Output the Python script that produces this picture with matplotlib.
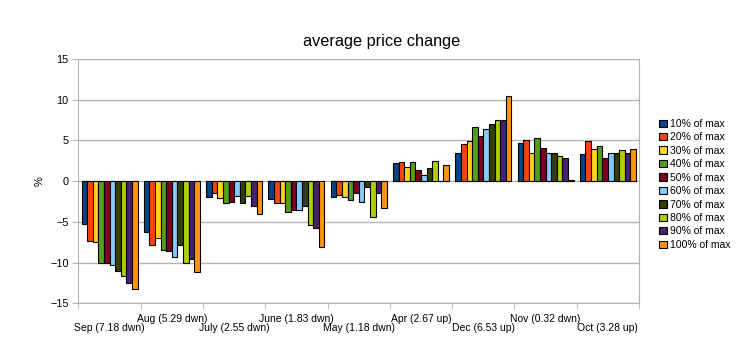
import matplotlib
matplotlib.use('Agg')
import matplotlib.pyplot as plt
import numpy as np

# months (groups) and the series shown in the legend
months = ['Sep (7.18 dwn)', 'Aug (5.29 dwn)', 'July (2.55 dwn)', 'June (1.83 dwn)',
          'May (1.18 dwn)', 'Apr (2.67 up)', 'Dec (6.53 up)', 'Nov (0.32 dwn)',
          'Oct (3.28 up)']
series = ['10% of max', '20% of max', '30% of max', '40% of max', '50% of max',
          '60% of max', '70% of max', '80% of max', '90% of max', '100% of max']

# average price change (%) per series, one value per month
s10 = [-5.2, -6.3, -2.0, -2.2, -1.9, 2.2, 3.4, 4.7, 3.3]
s20 = [-7.3, -7.8, -1.4, -2.7, -1.7, 2.4, 4.6, 5.0, 4.9]
s30 = [-7.5, -7.0, -2.1, -2.7, -1.9, 1.8, 4.9, 3.5, 4.0]
s40 = [-10.1, -8.5, -2.7, -3.8, -2.3, 2.3, 6.6, 5.3, 4.3]
s50 = [-10.1, -8.6, -2.6, -3.5, -1.4, 1.4, 5.6, 4.1, 2.9]
s60 = [-10.3, -9.3, -1.8, -3.5, -2.6, 0.8, 6.4, 3.4, 3.4]
s70 = [-11.0, -7.9, -2.7, -3.0, -0.7, 1.6, 7.0, 3.5, 3.4]
s80 = [-11.6, -10.0, -1.8, -5.4, -4.4, 2.5, 7.5, 3.1, 3.8]
s90 = [-12.5, -9.6, -3.1, -5.7, -1.4, 0.0, 7.5, 2.8, 3.5]
s100 = [-13.2, -11.2, -4.0, -8.1, -3.3, 2.0, 10.4, 0.1, 3.9]
values = [s10, s20, s30, s40, s50, s60, s70, s80, s90, s100]

colors = ['#004586', '#ff420e', '#ffd320', '#579d1c', '#7e0021',
          '#83caff', '#314004', '#aecf00', '#4b1f6f', '#ff950e']

plt.rcParams['font.family'] = ['Liberation Sans', 'DejaVu Sans']

fig = plt.figure(figsize=(7.52, 3.56), dpi=100)
ax = fig.add_axes([0.1043, 0.148, 0.7455, 0.6862])

x = np.arange(len(months))
width = 0.09
for j, (name, vals) in enumerate(zip(series, values)):
    ax.bar(x + (j - 4.5) * width, vals, width, color=colors[j],
           edgecolor='black', linewidth=0.8, label=name, zorder=3)

ax.set_xlim(-0.5, len(months) - 0.5)
ax.set_ylim(-15, 15)
ax.set_yticks([-15, -10, -5, 0, 5, 10, 15])
ax.yaxis.grid(True, color='#b3b3b3', linewidth=1, zorder=0)

# tick marks at group boundaries, labels at group centres in two rows
ax.set_xticks(np.arange(len(months) + 1) - 0.5, minor=True)
ax.set_xticks(x, months)
ax.tick_params(axis='x', which='major', length=0, labelsize=7.5)
ax.tick_params(axis='x', which='minor', length=4, color='#b3b3b3')
ax.tick_params(axis='y', length=4, color='#b3b3b3', labelsize=7.8, pad=3)
for i, tick in enumerate(ax.xaxis.get_major_ticks()):
    tick.set_pad(14.4 if i % 2 == 0 else 7.9)

ax.spines['top'].set_visible(False)
for side in ['left', 'right', 'bottom']:
    ax.spines[side].set_color('#b3b3b3')

ax.set_ylabel('%', fontsize=8)
fig.suptitle('average price change', fontsize=11.7, x=0.507, y=0.905)

ax.legend(loc='center left', bbox_to_anchor=(1.029, 0.487), frameon=False,
          fontsize=7.5, handlelength=0.7, handleheight=0.7, handletextpad=0.3,
          labelspacing=0.33, borderaxespad=0)

fig.savefig('out.png', dpi=100)
